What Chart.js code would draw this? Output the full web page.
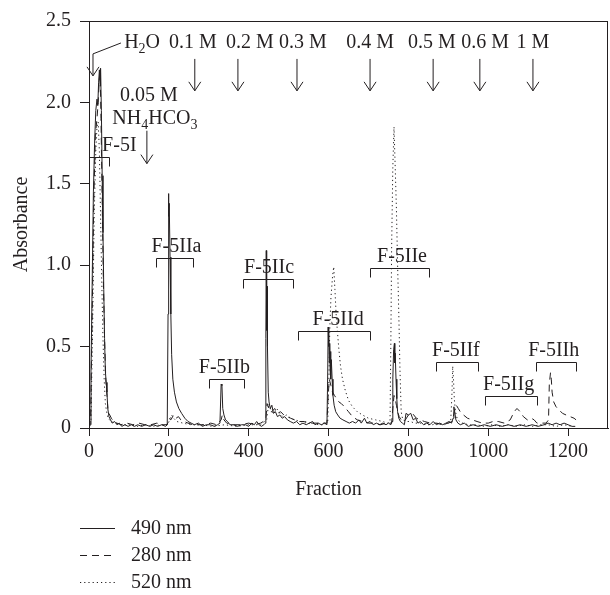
<!DOCTYPE html>
<html>
<head>
<meta charset="utf-8">
<script src="https://cdn.jsdelivr.net/npm/chart.js@4.4.1/dist/chart.umd.min.js"></script>
<style>
  body { margin: 0; background: #fff; }
</style>
</head>
<body>
<canvas id="elution" width="610" height="595"></canvas>
<script>
// absorbance traces, [fraction, absorbance]
const abs490 = [[0,0],[3,0.02],[5,0.35],[8,0.9],[11,1.45],[14,1.75],[17,1.95],[20,2.02],[22,1.98],[24,2.12],[26,2.2],[28,2.1],[29,2.21],[31,1.95],[33,1.55],[35,1.2],[37,0.85],[39,0.55],[41,0.35],[43,0.28],[45,0.22],[47,0.12],[50,0.07],[54,0.05],[58,0.03],[64,0.04],[70,0.02],[76,0.03],[82,0.01],[90,0.02],[98,0.01],[106,0.02],[114,0.01],[122,0.02],[132,0.01],[142,0.02],[152,0.01],[162,0.02],[172,0.01],[182,0.02],[192,0.01],[196,0.02],[198,0.7],[199,1.44],[200,1.3],[201,1.38],[203,1.05],[205,0.7],[207,0.45],[210,0.3],[214,0.22],[219,0.16],[225,0.12],[232,0.09],[240,0.06],[248,0.04],[256,0.03],[264,0.02],[274,0.03],[284,0.01],[294,0.02],[304,0.02],[314,0.01],[322,0.02],[328,0.03],[331,0.27],[333,0.26],[335,0.12],[338,0.08],[342,0.05],[347,0.04],[353,0.02],[362,0.02],[372,0.01],[382,0.02],[392,0.02],[400,0.01],[408,0.03],[414,0.02],[420,0.04],[426,0.02],[432,0.01],[438,0.02],[442,0.03],[443,0.55],[444,1.09],[445,0.6],[446,0.87],[447,0.5],[449,0.22],[451,0.16],[454,0.12],[458,0.14],[462,0.09],[467,0.1],[472,0.07],[478,0.08],[484,0.06],[490,0.07],[497,0.05],[504,0.04],[512,0.03],[520,0.04],[528,0.02],[536,0.03],[544,0.02],[552,0.03],[560,0.04],[566,0.02],[574,0.03],[582,0.02],[590,0.03],[596,0.02],[598,0.35],[599,0.62],[600,0.5],[601,0.58],[602,0.4],[603,0.52],[604,0.35],[605,0.47],[606,0.3],[607,0.42],[609,0.3],[611,0.2],[614,0.14],[618,0.1],[623,0.08],[629,0.06],[636,0.05],[644,0.04],[652,0.03],[660,0.04],[668,0.03],[676,0.05],[682,0.03],[690,0.06],[696,0.03],[704,0.04],[712,0.02],[720,0.03],[728,0.02],[736,0.03],[744,0.02],[750,0.03],[756,0.02],[759,0.04],[761,0.3],[763,0.48],[765,0.52],[766,0.4],[767,0.46],[769,0.3],[771,0.18],[773,0.1],[776,0.06],[780,0.04],[785,0.03],[790,0.02],[794,0.09],[800,0.08],[806,0.09],[812,0.05],[818,0.06],[824,0.03],[830,0.04],[838,0.02],[846,0.03],[854,0.02],[862,0.04],[870,0.02],[878,0.03],[886,0.02],[894,0.03],[902,0.04],[908,0.03],[912,0.06],[914,0.13],[916,0.1],[919,0.05],[924,0.03],[930,0.02],[940,0.03],[950,0.01],[962,0.02],[975,0.01],[990,0.02],[1005,0.01],[1020,0.02],[1035,0.01],[1050,0.02],[1065,0.01],[1080,0.02],[1095,0.01],[1110,0.02],[1125,0.01],[1140,0.02],[1150,0.03],[1160,0.02],[1170,0.03],[1180,0.02],[1190,0.03],[1200,0.02],[1210,0.01],[1218,0.01]];

const abs280 = [[0,0],[4,0.05],[8,0.7],[12,1.4],[16,1.8],[20,1.9],[23,2.0],[26,2.15],[28,2.18],[30,1.9],[33,1.4],[36,0.9],[39,0.55],[42,0.3],[45,0.2],[48,0.1],[52,0.08],[56,0.06],[62,0.04],[70,0.03],[80,0.02],[95,0.03],[110,0.02],[125,0.03],[140,0.02],[155,0.02],[170,0.03],[185,0.02],[196,0.02],[200,0.06],[205,0.05],[212,0.08],[218,0.06],[224,0.07],[230,0.05],[238,0.04],[248,0.03],[260,0.02],[275,0.02],[290,0.02],[305,0.03],[320,0.02],[331,0.05],[334,0.08],[338,0.05],[345,0.03],[360,0.02],[380,0.02],[400,0.03],[415,0.02],[430,0.03],[443,0.05],[446,0.15],[449,0.13],[453,0.1],[458,0.1],[465,0.12],[472,0.09],[480,0.1],[488,0.08],[496,0.07],[505,0.06],[515,0.05],[525,0.04],[540,0.04],[555,0.03],[570,0.03],[585,0.03],[596,0.03],[599,0.2],[602,0.3],[606,0.26],[610,0.22],[615,0.2],[620,0.18],[626,0.16],[632,0.15],[640,0.13],[650,0.1],[660,0.07],[672,0.05],[685,0.04],[700,0.03],[715,0.03],[730,0.02],[745,0.03],[758,0.03],[761,0.12],[764,0.2],[767,0.18],[770,0.14],[773,0.1],[777,0.07],[782,0.05],[790,0.04],[800,0.08],[810,0.09],[820,0.06],[830,0.05],[840,0.04],[855,0.03],[870,0.03],[885,0.02],[900,0.03],[910,0.04],[915,0.1],[920,0.14],[925,0.12],[930,0.1],[938,0.08],[948,0.06],[960,0.05],[972,0.04],[985,0.03],[1000,0.03],[1012,0.04],[1025,0.04],[1040,0.03],[1055,0.05],[1065,0.1],[1072,0.12],[1080,0.1],[1088,0.07],[1098,0.05],[1108,0.06],[1115,0.05],[1122,0.03],[1135,0.03],[1145,0.03],[1151,0.05],[1153,0.27],[1156,0.34],[1158,0.3],[1160,0.22],[1164,0.16],[1170,0.13],[1178,0.11],[1186,0.09],[1195,0.08],[1205,0.07],[1215,0.06],[1220,0.05]];

const abs520 = [[0,0],[5,0.05],[9,0.6],[13,1.3],[17,1.7],[20,1.85],[23,1.88],[26,1.7],[29,1.3],[32,0.9],[35,0.55],[38,0.3],[41,0.15],[44,0.1],[48,0.06],[55,0.04],[65,0.03],[80,0.02],[100,0.02],[120,0.01],[140,0.02],[160,0.01],[180,0.02],[197,0.02],[202,0.05],[207,0.08],[212,0.06],[220,0.04],[235,0.03],[255,0.02],[280,0.02],[310,0.01],[340,0.02],[370,0.01],[400,0.02],[430,0.02],[445,0.05],[450,0.15],[456,0.11],[462,0.09],[470,0.12],[478,0.09],[486,0.07],[495,0.08],[505,0.06],[515,0.05],[530,0.04],[545,0.03],[560,0.03],[575,0.02],[590,0.02],[598,0.04],[601,0.3],[603,0.6],[606,0.8],[610,0.93],[613,0.99],[616,0.85],[619,0.7],[622,0.6],[626,0.48],[630,0.38],[635,0.3],[642,0.23],[650,0.17],[660,0.13],[672,0.1],[685,0.08],[700,0.06],[718,0.05],[735,0.04],[748,0.03],[754,0.04],[756,0.5],[758,1.1],[761,1.6],[764,1.85],[767,1.6],[770,1.35],[773,1.0],[776,0.7],[779,0.35],[782,0.1],[786,0.05],[795,0.04],[805,0.04],[815,0.03],[830,0.03],[845,0.02],[860,0.02],[875,0.03],[890,0.02],[900,0.03],[906,0.04],[909,0.2],[911,0.38],[913,0.3],[915,0.18],[918,0.1],[922,0.06],[928,0.04],[936,0.03],[950,0.02],[970,0.02],[990,0.01],[1010,0.02],[1030,0.01],[1050,0.02],[1070,0.01],[1090,0.02],[1110,0.01],[1130,0.02],[1150,0.02],[1170,0.01],[1190,0.02],[1210,0.01]];

const xTicks = [0, 200, 400, 600, 800, 1000, 1200];
const yTicks = [0, 0.5, 1.0, 1.5, 2.0, 2.5];
const yTickText = ['0', '0.5', '1.0', '1.5', '2.0', '2.5'];

// eluent steps: fraction where each buffer went on, and where its label sits
const stepLabels = ['0.1 M', '0.2 M', '0.3 M', '0.4 M', '0.5 M', '0.6 M', '1 M'];
const stepAt = [265, 373, 521, 704, 862, 979, 1112];
const stepTextAt = [260, 403, 536, 704, 859, 992, 1112];

// pooled fractions
const poolNames = ['F-5I', 'F-5IIa', 'F-5IIb', 'F-5IIc', 'F-5IId', 'F-5IIe', 'F-5IIf', 'F-5IIg', 'F-5IIh'];
const poolFrom = [1, 169, 301, 385, 524, 704, 869, 991, 1119];
const poolTo = [51, 261, 389, 511, 704, 851, 974, 1121, 1219];
const poolLevel = [1.665, 1.046, 0.30, 0.914, 0.594, 0.98, 0.404, 0.196, 0.404];
const poolTextAt = [76, 219, 339, 451, 624, 784, 919, 1051, 1164];

const ink = '#231f20';
const serif = "'Liberation Serif', 'Times New Roman', serif";
const mainFont = '20px ' + serif;
const subFont = '14px ' + serif;

Chart.defaults.font.family = serif;
Chart.defaults.font.size = 20;
Chart.defaults.color = ink;

const toXY = arr => arr.map(p => ({ x: p[0], y: p[1] }));

// text run with subscripts, centred on x
function richText(ctx, parts, x, y) {
  let total = 0;
  parts.forEach(p => { ctx.font = p[1] ? subFont : mainFont; total += ctx.measureText(p[0]).width; });
  let cx = x - total / 2;
  ctx.textAlign = 'left';
  ctx.textBaseline = 'alphabetic';
  parts.forEach(p => {
    ctx.font = p[1] ? subFont : mainFont;
    ctx.fillText(p[0], cx, p[1] ? y + 5 : y);
    cx += ctx.measureText(p[0]).width;
  });
}

function arrowDown(ctx, x, y0, y1) {
  ctx.beginPath();
  ctx.moveTo(x, y0);
  ctx.lineTo(x, y1);
  ctx.moveTo(x - 6, y1 - 9);
  ctx.lineTo(x, y1);
  ctx.lineTo(x + 6, y1 - 9);
  ctx.stroke();
}

const notes = {
  id: 'notes',
  afterDraw(chart) {
    const { ctx, chartArea: a, scales: { x, y } } = chart;
    ctx.save();
    ctx.strokeStyle = ink;
    ctx.fillStyle = ink;
    ctx.lineWidth = 1;

    // box
    ctx.strokeRect(Math.round(a.left) + 0.5, Math.round(a.top) + 0.5,
      Math.round(a.right - a.left) - 1, Math.round(a.bottom - a.top));

    // water wash
    richText(ctx, [['H'], ['2', 1], ['O']], x.getPixelForValue(133), y.getPixelForValue(2.335));
    const wx = x.getPixelForValue(10);
    ctx.beginPath();
    ctx.moveTo(x.getPixelForValue(80), y.getPixelForValue(2.365));
    ctx.lineTo(wx, y.getPixelForValue(2.298));
    ctx.stroke();
    arrowDown(ctx, wx, y.getPixelForValue(2.298), y.getPixelForValue(2.163));

    // first buffer
    richText(ctx, [['0.05 M']], x.getPixelForValue(150), y.getPixelForValue(2.01));
    richText(ctx, [['NH'], ['4', 1], ['HCO'], ['3', 1]], x.getPixelForValue(165), y.getPixelForValue(1.869));
    arrowDown(ctx, x.getPixelForValue(145), y.getPixelForValue(1.826), y.getPixelForValue(1.624));

    // step gradient
    stepLabels.forEach((t, i) => {
      const px = x.getPixelForValue(stepAt[i]);
      richText(ctx, [[t]], x.getPixelForValue(stepTextAt[i]), y.getPixelForValue(2.335));
      arrowDown(ctx, px, y.getPixelForValue(2.267), y.getPixelForValue(2.071));
    });

    // pools
    poolNames.forEach((t, i) => {
      const x0 = Math.round(x.getPixelForValue(poolFrom[i])) + 0.5;
      const x1 = Math.round(x.getPixelForValue(poolTo[i])) + 0.5;
      const py = Math.round(y.getPixelForValue(poolLevel[i])) + 0.5;
      ctx.beginPath();
      ctx.moveTo(x0, py + 9);
      ctx.lineTo(x0, py);
      ctx.lineTo(x1, py);
      ctx.lineTo(x1, py + 9);
      ctx.stroke();
      richText(ctx, [[t]], x.getPixelForValue(poolTextAt[i]), py - 7);
    });

    // x title, centred under the labelled range
    ctx.font = mainFont;
    ctx.textAlign = 'center';
    ctx.textBaseline = 'middle';
    ctx.fillText('Fraction', (x.getPixelForValue(xTicks[0]) + x.getPixelForValue(xTicks[xTicks.length - 1])) / 2, 490);

    // legend, one row per trace
    chart.data.datasets.forEach((ds, i) => {
      const ly = 528 + 27 * i + 0.5;
      ctx.setLineDash(ds.borderDash || []);
      ctx.beginPath();
      ctx.moveTo(80, ly);
      ctx.lineTo(115, ly);
      ctx.stroke();
      ctx.setLineDash([]);
      ctx.textAlign = 'left';
      ctx.textBaseline = 'middle';
      ctx.fillText(ds.label, 131, ly);
    });
    ctx.restore();
  }
};

const trace = (label, data, dash) => ({
  label,
  data: toXY(data),
  borderColor: ink,
  borderWidth: 1,
  borderDash: dash,
  pointRadius: 0,
  tension: 0,
  fill: false
});

new Chart(document.getElementById('elution'), {
  type: 'line',
  data: {
    datasets: [
      trace('490 nm', abs490, []),
      trace('280 nm', abs280, [7, 5]),
      trace('520 nm', abs520, [1.2, 3])
    ]
  },
  options: {
    responsive: false,
    animation: false,
    devicePixelRatio: 1,
    layout: { padding: { left: 0, right: 2, top: 20, bottom: 87 } },
    plugins: { legend: { display: false }, tooltip: { enabled: false } },
    scales: {
      x: {
        type: 'linear',
        min: 0,
        max: 1300,
        afterBuildTicks: s => { s.ticks = xTicks.map(v => ({ value: v })); },
        afterFit: s => { s.height = 80; },
        grid: { drawOnChartArea: false, tickLength: 8, tickColor: ink },
        border: { color: ink, width: 1 },
        ticks: { padding: 4, maxRotation: 0, autoSkip: false, callback: v => String(v) }
      },
      y: {
        min: 0,
        max: 2.5,
        afterBuildTicks: s => { s.ticks = yTicks.map(v => ({ value: v })); },
        afterFit: s => { s.width = 89; },
        grid: { drawOnChartArea: false, tickLength: 9, tickColor: ink },
        border: { color: ink, width: 1 },
        ticks: { padding: 9, callback: v => yTickText[yTicks.indexOf(v)] },
        title: { display: true, text: 'Absorbance', padding: { top: 10, bottom: 0 } }
      }
    }
  },
  plugins: [notes]
});
</script>
</body>
</html>
